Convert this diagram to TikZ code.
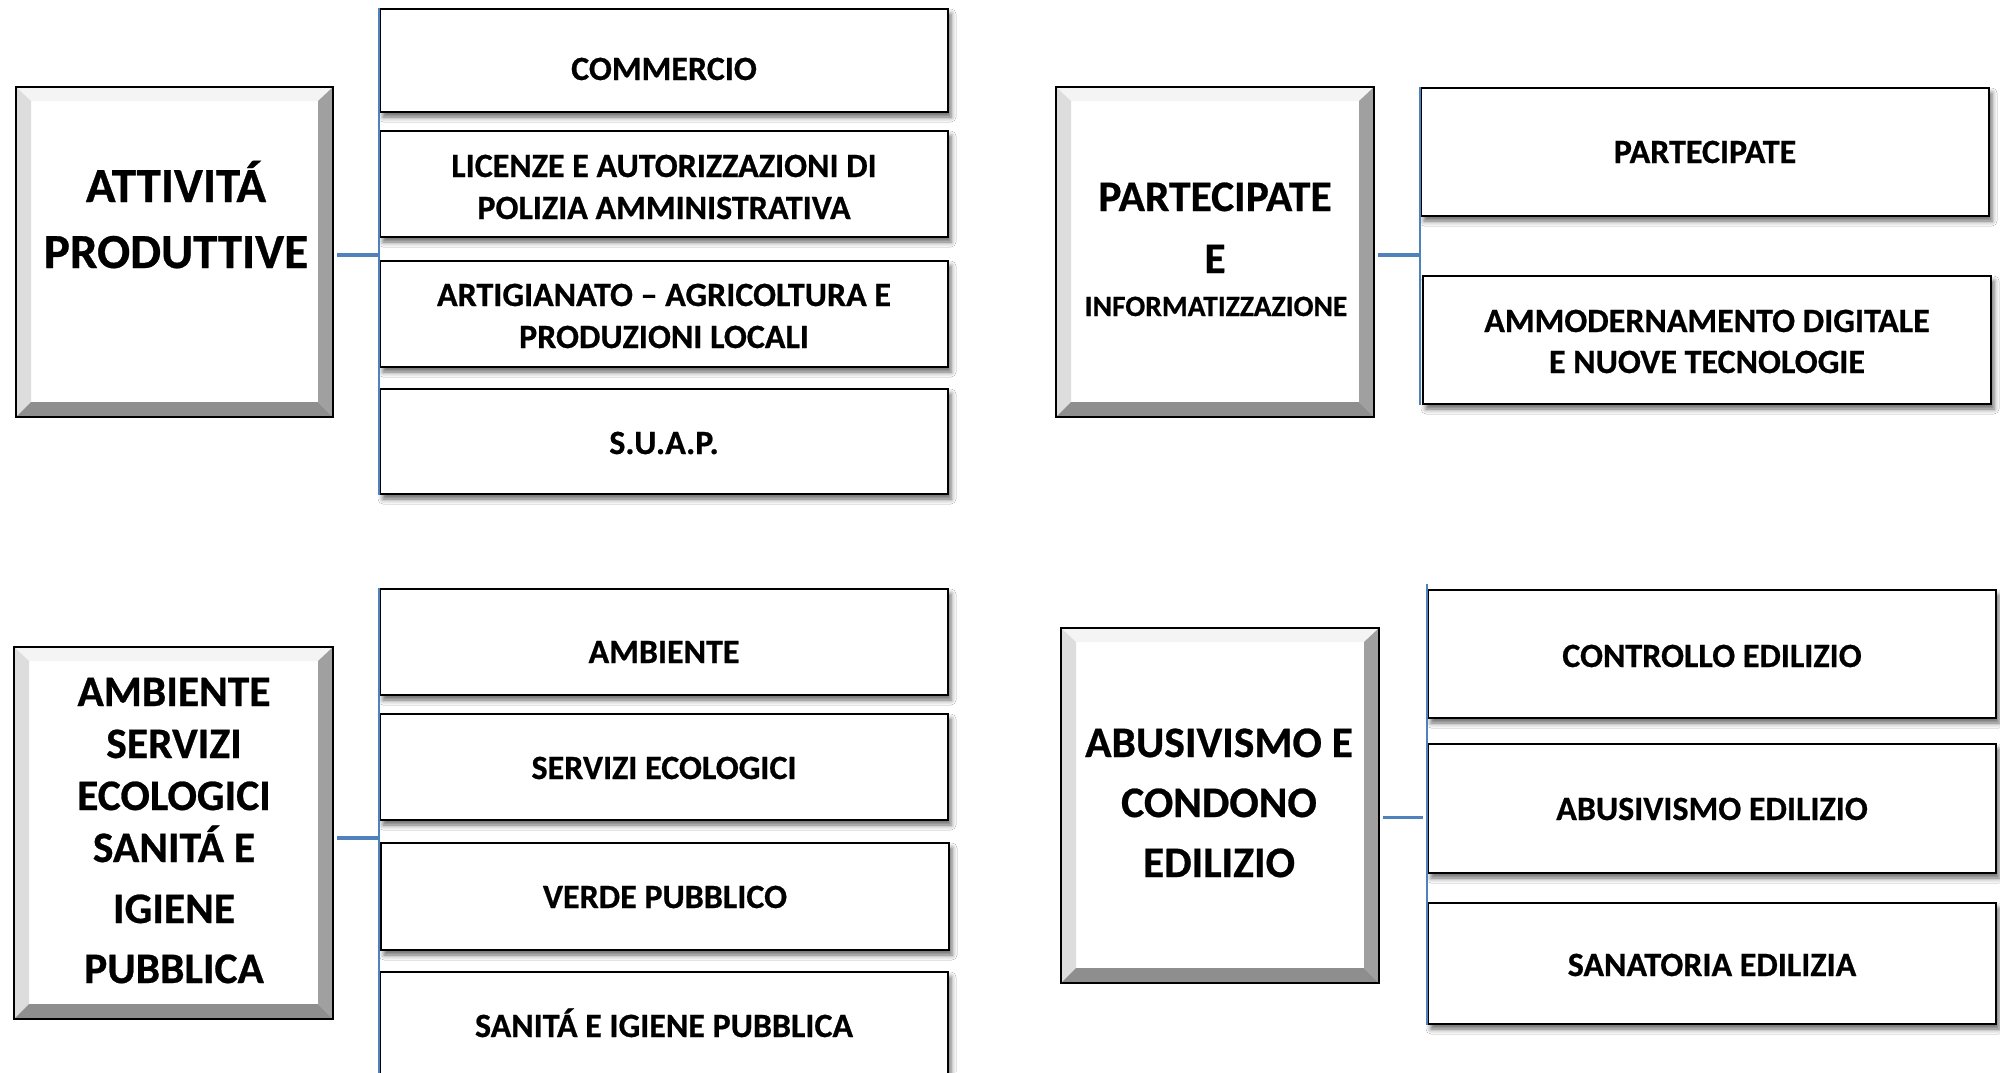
\documentclass[tikz,border=0pt]{standalone}
\usepackage{fontspec}
\setmainfont{Carlito}[BoldFeatures={FakeBold=0.6}]
\usetikzlibrary{calc,shadows.blur}
\definecolor{conn}{HTML}{4F81BD}
\definecolor{bevL}{HTML}{DDDDDD}
\definecolor{bevT}{HTML}{F4F4F4}
\definecolor{bevR}{HTML}{A0A0A0}
\definecolor{bevB}{HTML}{8E8E8E}
\begin{document}
\begin{tikzpicture}[x=1pt,y=-1pt,
  bevelbox/.style={rectangle, draw=black, line width=2.8pt, fill=white, inner sep=0pt,
    path picture={
      \coordinate (pnw) at (path picture bounding box.north west);
      \coordinate (pne) at (path picture bounding box.north east);
      \coordinate (psw) at (path picture bounding box.south west);
      \coordinate (pse) at (path picture bounding box.south east);
      \fill[bevT] (pnw) -- (pne) -- ++(-15pt,-14pt) -- ($(pnw)+(15pt,-14pt)$) -- cycle;
      \fill[bevL] (pnw) -- ++(15pt,-14pt) -- ($(psw)+(15pt,15pt)$) -- (psw) -- cycle;
      \fill[bevR] (pne) -- ++(-15pt,-14pt) -- ($(pse)+(-15pt,15pt)$) -- (pse) -- cycle;
      \fill[bevB] (psw) -- ++(15pt,15pt) -- ($(pse)+(-15pt,15pt)$) -- (pse) -- cycle;
    }},
  sbox/.style={rectangle, draw=black, line width=1.9pt, fill=white, inner sep=0pt,
    minimum width=568pt,
    blur shadow={shadow xshift=3pt, shadow yshift=-5pt, shadow blur radius=5pt, shadow opacity=60}},
  bigtxt/.style={font=\bfseries\fontsize{43.5}{50}\selectfont, anchor=base, inner sep=0pt},
  hugetxt/.style={font=\bfseries\fontsize{49}{56}\selectfont, anchor=base, inner sep=0pt},
  midtxt/.style={font=\bfseries\fontsize{29.5}{35}\selectfont, anchor=base, inner sep=0pt},
  smalltxt/.style={font=\bfseries\fontsize{34}{42}\selectfont, anchor=base, inner sep=0pt},
  link/.style={draw=conn, line width=3.8pt},
  bus/.style={draw=conn, line width=1.6pt}]
\useasboundingbox (0,0) rectangle (2000,1072);
\fill[white] (0,0) rectangle (2000,1072);

% ---------------- top left ----------------
\node[bevelbox, minimum width=317pt, minimum height=330pt] (ap) at (174.5,252) {};
\node[hugetxt] (ap1) at (176,202) {ATTIVITÁ};
\node[hugetxt] (ap2) at (176,268) {PRODUTTIVE};
\node[sbox, minimum height=103pt] (c1) at (664,60.5) {};
\node[sbox, minimum height=106pt] (c2) at (664,184) {};
\node[sbox, minimum height=106pt] (c3) at (664,314) {};
\node[sbox, minimum height=105pt] (c4) at (664,441.5) {};
\node[smalltxt] (c1t) at (664,80) {COMMERCIO};
\node[smalltxt] (c2t) at (664,177) {LICENZE E AUTORIZZAZIONI DI};
\node[smalltxt] (c2u) at (664,219) {POLIZIA AMMINISTRATIVA};
\node[smalltxt] (c3t) at (664,306) {ARTIGIANATO – AGRICOLTURA E};
\node[smalltxt] (c3u) at (664,348) {PRODUZIONI LOCALI};
\node[smalltxt] (c4t) at (664,454) {S.U.A.P.};
\draw[bus] (c1.north west) -- (c4.south west);
\draw[link, shorten <=3pt] ([yshift=-3pt]ap.east) -- ([yshift=-3pt]ap.east -| c1.west);

% ---------------- top right ----------------
\node[bevelbox, minimum width=318pt, minimum height=330pt] (pi) at (1215,252) {};
\node[bigtxt] (pi1) at (1215,211) {PARTECIPATE};
\node[bigtxt] (pi2) at (1215,273) {E};
\node[midtxt] (pi3) at (1216,316) {INFORMATIZZAZIONE};
\node[sbox, minimum height=128pt] (p1) at (1705,152) {};
\node[sbox, minimum height=128pt] (p2) at (1707,340) {};
\node[smalltxt] (p1t) at (1705,163) {PARTECIPATE};
\node[smalltxt] (p2t) at (1707,332) {AMMODERNAMENTO DIGITALE};
\node[smalltxt] (p2u) at (1707,373) {E NUOVE TECNOLOGIE};
\draw[bus] (p1.north west) -- (p1.north west |- p2.south west);
\draw[link, shorten <=3pt] ([yshift=-3pt]pi.east) -- ([yshift=-3pt]pi.east -| p1.west);

% ---------------- bottom left ----------------
\node[bevelbox, minimum width=319pt, minimum height=372pt] (as) at (173.5,833) {};
\node[bigtxt] (as1) at (174,706) {AMBIENTE};
\node[bigtxt] (as2) at (174,758) {SERVIZI};
\node[bigtxt] (as3) at (174,810) {ECOLOGICI};
\node[bigtxt] (as4) at (174,862) {SANITÁ E};
\node[bigtxt] (as5) at (174,923) {IGIENE};
\node[bigtxt] (as6) at (174,983) {PUBBLICA};
\node[sbox, minimum height=106pt] (a1) at (664,642) {};
\node[sbox, minimum height=106pt] (a2) at (664,767) {};
\node[sbox, minimum height=107pt] (a3) at (665,896.5) {};
\node[sbox, minimum height=130pt] (a4) at (664,1037) {};
\node[smalltxt] (a1t) at (664,663) {AMBIENTE};
\node[smalltxt] (a2t) at (664,779) {SERVIZI ECOLOGICI};
\node[smalltxt] (a3t) at (665,908) {VERDE PUBBLICO};
\node[smalltxt] (a4t) at (664,1037) {SANITÁ E IGIENE PUBBLICA};
\draw[bus] (a1.north west) -- (a4.south west);
\draw[link, shorten <=3pt] ([yshift=-5pt]as.east) -- ([yshift=-5pt]as.east -| a1.west);

% ---------------- bottom right ----------------
\node[bevelbox, minimum width=318pt, minimum height=355pt] (cd) at (1220,805.5) {};
\node[bigtxt] (cd1) at (1219,757) {ABUSIVISMO E};
\node[bigtxt] (cd2) at (1219,817) {CONDONO};
\node[bigtxt] (cd3) at (1219,877) {EDILIZIO};
\node[sbox, minimum height=128pt] (e1) at (1712,654) {};
\node[sbox, minimum height=129pt] (e2) at (1712,808.5) {};
\node[sbox, minimum height=121pt] (e3) at (1712,963.5) {};
\node[smalltxt] (e1t) at (1712,667) {CONTROLLO EDILIZIO};
\node[smalltxt] (e2t) at (1712,820) {ABUSIVISMO EDILIZIO};
\node[smalltxt] (e3t) at (1712,976) {SANATORIA EDILIZIA};
\draw[bus] ([yshift=5pt]e1.north west) -- (e3.south west);
\draw[link, shorten <=3pt, shorten >=4pt] ([yshift=-12pt]cd.east) -- ([yshift=-12pt]cd.east -| e1.west);
\end{tikzpicture}
\end{document}
